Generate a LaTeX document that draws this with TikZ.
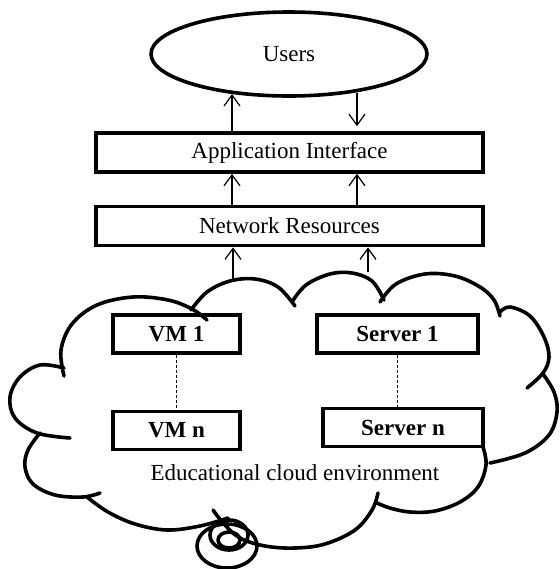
\documentclass[tikz,border=0pt]{standalone}
\usepackage{fontspec}
\setmainfont{Liberation Serif}
\usetikzlibrary{arrows.meta, positioning, shapes.geometric}

\begin{document}
\begin{tikzpicture}[x=0.5pt, y=-0.5pt, font=\fontsize{11.5}{14}\selectfont,
  layer/.style={draw, line width=1.8pt, minimum width=193.5pt, minimum height=19.5pt, inner sep=0pt},
  unit/.style={draw, line width=1.8pt, minimum height=19pt, inner sep=0pt, font=\fontsize{11.5}{14}\selectfont\bfseries},
  arr/.style={-{Straight Barb[length=5.5pt, width=8pt]}, line width=0.6pt},
  link/.style={dash pattern=on 1.5pt off 1pt, line width=0.5pt},
  bump/.style={line width=1.8pt, line cap=round, line join=round}]
\useasboundingbox (0,0) rectangle (560,569);

% Users
\node[draw, ellipse, line width=1.8pt, minimum width=138pt, minimum height=42pt, inner sep=0pt] (users) at (289,54) {Users};

% Layers
\node[layer] (ai) at (289.5,152.5) {Application Interface};
\node[layer, below=15.5pt of ai] (nr) {Network Resources};

% Cloud contents
\node[unit, minimum width=63.5pt] (vm1) at (176.5,334) {VM 1};
\node[unit, minimum width=63.5pt, below=27.5pt of vm1] (vmn) {VM n};
\node[unit, minimum width=80.5pt] (srv1) at (397.5,334) {Server 1};
\node[unit, minimum width=80pt] (srvn) at (403,427.5) {Server n};
\node (cap) at (295,473) {Educational cloud environment};

\draw[link] (vm1) -- (vmn);
\draw[link] (srv1.south) -- (srv1.south |- srvn.north);

% Cloud outline
\draw[bump] plot[smooth, tension=0.6] coordinates {(64,376) (61,350) (72,324) (97,305) (133,297) (168,300) (192,309) (207,320)};
\draw[bump] plot[smooth, tension=0.6] coordinates {(191,310) (207,292) (230,281) (255,279) (278,287) (295,306)};
\draw[bump] plot[smooth, tension=0.6] coordinates {(292,302) (306,285) (330,274) (352,273) (372,281) (384,300)};
\draw[bump] plot[smooth, tension=0.6] coordinates {(380,302) (396,284) (425,274) (455,276) (480,287) (494,300) (500,316)};
\draw[bump] plot[smooth, tension=0.6] coordinates {(500,312) (510,307) (530,316) (544,337) (549,357) (543,373) (527,388)};
\draw[bump] plot[smooth, tension=0.6] coordinates {(543,374) (554,392) (557,412) (549,435) (525,453) (490,463)};
\draw[bump] plot[smooth, tension=0.6] coordinates {(483,447) (486,465) (478,487) (460,502) (435,511) (410,512) (390,508) (377,503)};
\draw[bump] plot[smooth, tension=0.6] coordinates {(378,493) (372,510) (355,530) (325,544) (295,548) (265,546) (240,538) (224,524) (213,510)};
\draw[bump] plot[smooth, tension=0.6] coordinates {(87,497) (108,512) (135,524) (167,530) (200,526) (228,518)};
\draw[bump] plot[smooth, tension=0.6] coordinates {(40,433) (28,450) (25,467) (33,484) (55,495) (83,497) (100,493)};
\draw[bump] plot[smooth, tension=0.6] coordinates {(64,368) (40,365) (20,377) (10,397) (15,418) (37,433) (70,438)};

% Thought bubbles
\draw[bump] (227,546) ellipse [x radius=15pt, y radius=11pt];
\draw[bump] (229,535) ellipse [x radius=9.5pt, y radius=7.5pt];
\draw[bump] (229,540) ellipse [x radius=5.5pt, y radius=4pt];

% Arrows
\coordinate (u1) at (232,94);
\coordinate (u2) at (357,92.5);
\coordinate (c1) at (233,279);
\coordinate (c2) at (368,272);
\draw[arr] (ai.north -| u1) -- (u1);
\draw[arr, shorten >=2.5pt] (u2) -- (ai.north -| u2);
\draw[arr] (nr.north -| u1) -- (ai.south -| u1);
\draw[arr] (nr.north -| u2) -- (ai.south -| u2);
\draw[arr] (c1) -- (nr.south -| c1);
\draw[arr] (c2) -- (nr.south -| c2);

\end{tikzpicture}
\end{document}
